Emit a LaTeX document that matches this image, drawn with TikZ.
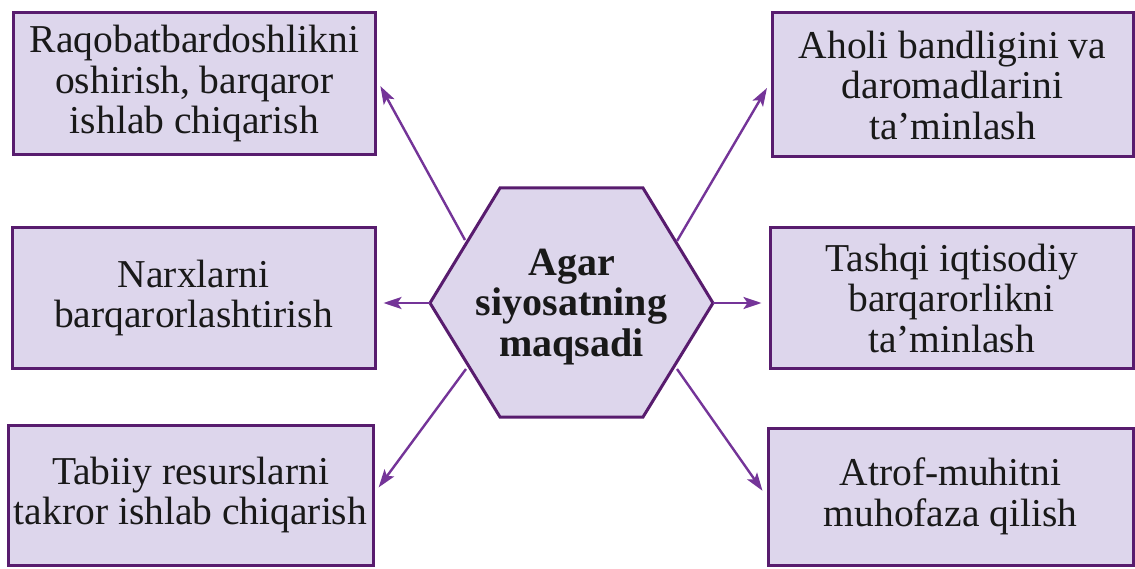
\documentclass[tikz,border=0pt]{standalone}
\usepackage{fontspec}
\setmainfont{Liberation Serif}
\usetikzlibrary{arrows.meta}
\definecolor{boxfill}{RGB}{221,214,236}
\definecolor{boxline}{RGB}{88,28,110}
\definecolor{arrowcol}{RGB}{116,52,152}
\tikzset{
  goalbox/.style={draw=boxline, line width=3pt, fill=boxfill, inner sep=0pt,
    align=center, font=\fontsize{39.5}{40.5}\selectfont, text=black!90},
  hexline/.style={draw=boxline, line width=3pt, fill=boxfill, line join=miter},
  arr/.style={draw=arrowcol, line width=2.4pt, shorten >=7pt,
    -{Stealth[length=18pt,width=12pt,inset=4pt]}},
}
\begin{document}
\begin{tikzpicture}[x=1pt,y=-1pt]
\useasboundingbox[fill=white] (0,0) rectangle (1135,569);
% boxes
\node[goalbox, minimum width=362pt, minimum height=142pt] (b1) at (194.5,84)
  {Raqobatbardoshlikni\\oshirish, barqaror\\ishlab chiqarish};
\node[goalbox, minimum width=363pt, minimum height=140pt] (b2) at (193.5,298)
  {Narxlarni\\barqarorlashtirish};
\node[goalbox, minimum width=365pt, minimum height=140pt] (b3) at (190.5,495)
  {Tabiiy resurslarni\\takror ishlab chiqarish};
\node[goalbox, minimum width=361pt, minimum height=144pt] (b4) at (952.5,85)
  {Aholi bandligini va\\daromadlarini\\ta’minlash};
\node[goalbox, minimum width=363pt, minimum height=140pt] (b5) at (951.5,298)
  {Tashqi iqtisodiy\\barqarorlikni\\ta’minlash};
\node[goalbox, minimum width=365pt, minimum height=137pt] (b6) at (950.5,496.5)
  {Atrof-muhitni\\muhofaza qilish};
% hexagon
\coordinate (hL) at (430,303);
\coordinate (hR) at (713,303);
\draw[hexline] (hL) -- (500,188) -- (643,188) -- (hR) -- (643,417) -- (500,417) -- cycle;
\node[align=center, inner sep=0pt, font=\fontsize{40}{40.5}\selectfont\bfseries, text=black!90] (c) at (571.5,307)
  {Agar\\siyosatning\\maqsadi};
% arrow start points on the hexagon
\coordinate (hTL) at (465,240);
\coordinate (hTR) at (677,241);
\coordinate (hBL) at (466,369);
\coordinate (hBR) at (677,369);
% arrows
\draw[arr] (hTL) -- ([yshift=4pt]b1.east);
\draw[arr] (hTR) -- ([yshift=3pt]b4.west);
\draw[arr] (hL) -- (hL -| b2.east);
\draw[arr] (hR) -- (hR -| b5.west);
\draw[arr] (hBL) -- ([yshift=2pt]b3.east);
\draw[arr] (hBR) -- (b6.west);
\end{tikzpicture}
\end{document}
